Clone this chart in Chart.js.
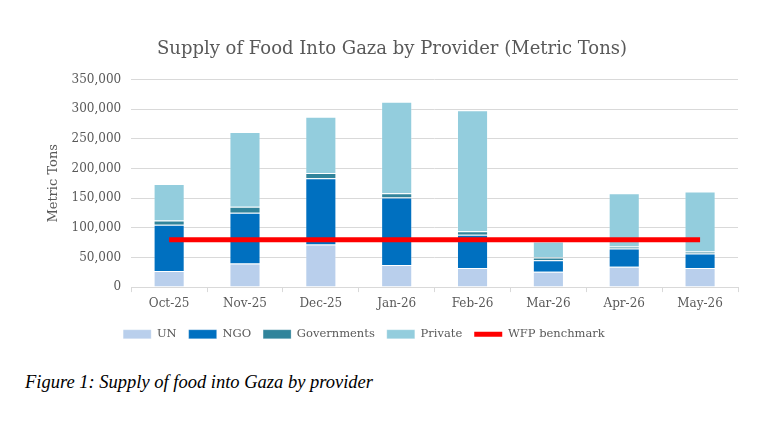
<!DOCTYPE html>
<html>
<head>
<meta charset="utf-8">
<script src="https://cdn.jsdelivr.net/npm/chart.js@4"></script>
<style>
  body { margin: 0; background: #fff; }
  #wrap { position: absolute; left: 0; top: 0; width: 759px; height: 350px; }
  #caption {
    position: absolute; left: 25px; top: 372px;
    font-family: "Liberation Serif", serif; font-style: italic;
    font-size: 18.5px; color: #000;
  }
</style>
</head>
<body>
<div id="wrap"><canvas id="chart"></canvas></div>
<div id="caption">Figure 1: Supply of food into Gaza by provider</div>
<script>
const months = ['Oct-25', 'Nov-25', 'Dec-25', 'Jan-26', 'Feb-26', 'Mar-26', 'Apr-26', 'May-26'];
const un = [27000, 39600, 72000, 37400, 32300, 26000, 34500, 32300];
const ngo = [78000, 86000, 111500, 113800, 56000, 19200, 30600, 24300];
const governments = [7500, 10000, 9000, 7300, 5700, 4600, 3400, 3400];
const privateSector = [61500, 126000, 95000, 154000, 204400, 27000, 90000, 101400];
const benchmark = [80000, 80000, 80000, 80000, 80000, 80000, 80000, 80000];

const textColor = '#595959';
const gridColor = '#d9d9d9';
const serif = '"DejaVu Serif", "Liberation Serif", serif';

function barSet(label, data, color) {
    return {
        type: 'bar',
        label: label,
        data: data,
        backgroundColor: color,
        borderColor: 'rgba(255,255,255,0.25)',
        borderWidth: 1,
        stack: 'supply',
        order: 1,
        barPercentage: 0.82,
        categoryPercentage: 0.5,
        pointStyle: 'rect'
    };
}

// the legend in the original sits a bit left of centre
const legendShift = {
    id: 'legendShift',
    afterLayout(chart) {
        chart.legend.left -= 28;
        chart.legend.right -= 28;
    }
};

const ctx = document.getElementById('chart').getContext('2d');
const chart = new Chart(ctx, {
    data: {
        labels: months,
        datasets: [
            barSet('UN', un, '#b9cfec'),
            barSet('NGO', ngo, '#0070c0'),
            barSet('Governments', governments, '#31849b'),
            barSet('Private', privateSector, '#93cddd'),
            {
                type: 'line',
                label: 'WFP benchmark',
                data: benchmark,
                borderColor: '#ff0000',
                backgroundColor: '#ff0000',
                borderWidth: 5,
                pointRadius: 0,
                stack: 'bench',
                order: 0,
                pointStyle: 'line'
            }
        ]
    },
    plugins: [legendShift],
    options: {
        responsive: true,
        maintainAspectRatio: false,
        animation: false,
        layout: { padding: { top: 39, left: 46, right: 21, bottom: 0 } },
        plugins: {
            title: {
                display: true,
                text: 'Supply of Food Into Gaza by Provider (Metric Tons)',
                color: textColor,
                font: { family: serif, size: 18, weight: 'normal' },
                padding: { top: 0, bottom: 19 }
            },
            legend: {
                position: 'bottom',
                labels: {
                    color: textColor,
                    font: { family: serif, size: 11.5 },
                    usePointStyle: true,
                    pointStyleWidth: 28,
                    boxHeight: 9,
                    padding: 12,
                    sort: (a, b) => a.datasetIndex - b.datasetIndex
                }
            },
            tooltip: { enabled: false }
        },
        scales: {
            x: {
                stacked: true,
                grid: { display: true, drawOnChartArea: false, color: gridColor, tickLength: 5, offset: true },
                border: { color: gridColor },
                ticks: { color: textColor, font: { family: serif, size: 12 }, padding: 5 }
            },
            y: {
                stacked: true,
                min: 0,
                max: 350000,
                ticks: {
                    stepSize: 50000,
                    color: textColor,
                    font: { family: serif, size: 12 },
                    padding: 10,
                    callback: (v) => v.toLocaleString('en-US')
                },
                grid: { color: gridColor, drawTicks: false },
                border: { display: false },
                title: {
                    display: true,
                    text: 'Metric Tons',
                    color: textColor,
                    font: { family: serif, size: 13 },
                    padding: { top: 0, bottom: 0 }
                }
            }
        }
    }
});
</script>
</body>
</html>
